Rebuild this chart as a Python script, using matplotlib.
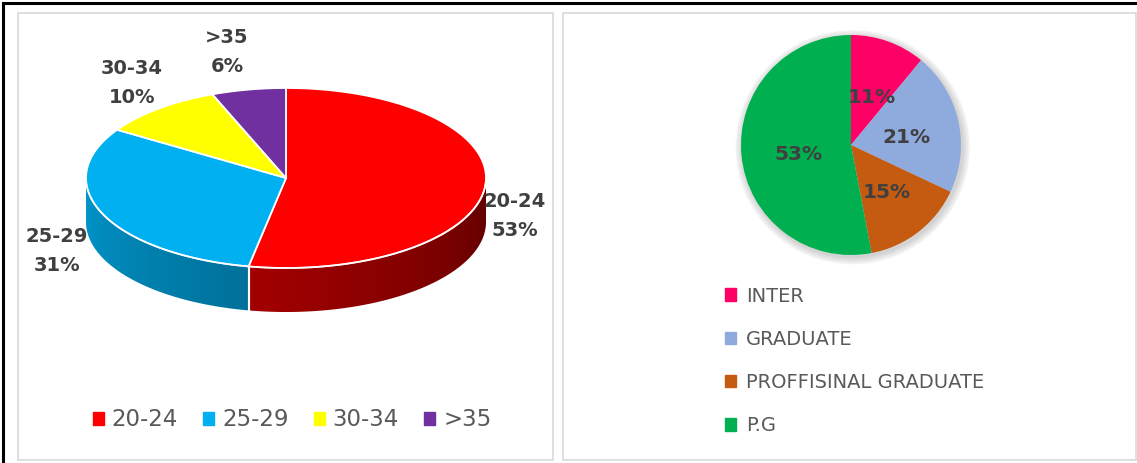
import numpy as np
import matplotlib
matplotlib.use("Agg")
import matplotlib.pyplot as plt
from matplotlib.patches import Polygon, Rectangle, Circle, Patch
from matplotlib.lines import Line2D

plt.rcParams['font.family'] = ['DejaVu Sans']

# age groups (left, 3D pie)
age_labels = ['20-24', '25-29', '30-34', '>35']
age_share = [53, 31, 10, 6]
age_colors = ['#FF0000', '#00B0F0', '#FFFF00', '#7030A0']

# education (right, flat pie)
edu_labels = ['INTER', 'GRADUATE', 'PROFFISINAL GRADUATE', 'P.G']
edu_share = [11, 21, 15, 53]
edu_colors = ['#FF0066', '#8FAADC', '#C55A11', '#00B050']

txt_dark = '#404040'
txt_leg = '#595959'

W, H = 1137, 463
fig = plt.figure(figsize=(W / 100, H / 100), dpi=100)
bg = fig.add_axes([0, 0, 1, 1])
bg.axis('off')

# outer frame (left and top only) and the two chart boxes
fig.add_artist(Line2D([3 / W, 3 / W, 1], [0, 1 - 3 / H, 1 - 3 / H], color='black', lw=2.2,
                      solid_joinstyle='miter', solid_capstyle='butt'))
bg.add_patch(Rectangle((18, 13), 535, 447, fill=False, ec='#D9D9D9', lw=1.2))
bg.add_patch(Rectangle((563, 13), 573, 447, fill=False, ec='#D9D9D9', lw=1.2))

# ---- left: 3D pie drawn by hand ----
cx, cy, rx, ry, depth = 286, 178, 200, 90, 44


def pt(theta, dz=0):
    t = np.radians(theta)
    return cx + rx * np.cos(t), cy - ry * np.sin(t) + dz


def shade(theta):
    # darker towards the right side of the wall
    return 0.85 - 0.47 * (theta + 180) / 180


fracs = np.array(age_share) / sum(age_share)
starts = 90 - 360 * np.concatenate([[0], np.cumsum(fracs)[:-1]])
ends = starts - 360 * fracs

xs = np.linspace(cx - rx, cx + rx, 400)
col_theta = -np.degrees(np.arccos(np.clip((xs - cx) / rx, -1, 1)))

# side wall, only the front half (-180..0) is visible
for s, e, col in zip(starts, ends, age_colors):
    lo, hi = max(e, -180), min(s, 0)
    if lo >= hi:
        continue
    base = np.array(matplotlib.colors.to_rgb(col))
    angs = np.linspace(hi, lo, 200)
    top = [pt(a) for a in angs]
    bot = [pt(a, depth) for a in angs[::-1]]
    wall = Polygon(top + bot, closed=True, fc='none', ec='none')
    bg.add_patch(wall)
    grad = shade(col_theta)[None, :, None] * base[None, None, :]
    im = bg.imshow(grad, extent=(cx - rx, cx + rx, cy + ry + depth, cy - ry),
                   aspect='auto', interpolation='bilinear', zorder=1)
    im.set_clip_path(wall)
    for a in (hi, lo):
        if -180 < a < 0:
            x, y = pt(a)
            bg.plot([x, x], [y, y + depth], color='white', lw=1.5, zorder=2)

# top face
for s, e, col in zip(starts, ends, age_colors):
    angs = np.linspace(s, e, 200)
    verts = [(cx, cy)] + [pt(a) for a in angs]
    bg.add_patch(Polygon(verts, closed=True, fc=col, ec='white', lw=1.3, zorder=3))

# light rim along the front edge
rim = np.linspace(-180, 0, 200)
bg.plot([pt(a)[0] for a in rim], [pt(a)[1] for a in rim], color='white', lw=1.2,
        alpha=0.8, zorder=4)

# data labels (category + percent)
age_label_pos = [(515, 216), (57, 251), (132, 83), (227, 52)]
for (x, y), lab, v in zip(age_label_pos, age_labels, age_share):
    bg.text(x, y, f'{lab}\n{v}%', ha='center', va='center', fontsize=14,
            fontweight='bold', color=txt_dark, linespacing=1.7, zorder=5)

bg.set_xlim(0, W)
bg.set_ylim(H, 0)

leg1 = bg.legend(handles=[Patch(color=c, label=l) for c, l in zip(age_colors, age_labels)],
                 loc='center', bbox_to_anchor=(292 / W, 1 - 420 / H), ncol=4, frameon=False,
                 fontsize=16.5, labelcolor=txt_leg, handlelength=0.48, handleheight=0.48,
                 handletextpad=0.35, columnspacing=1.1)
bg.add_artist(leg1)

# ---- right: flat pie ----
pcx, pcy, pr = 851, 145, 110
ax2 = fig.add_axes([(pcx - pr) / W, 1 - (pcy + pr) / H, 2 * pr / W, 2 * pr / H])

# soft shadow
for k in range(6):
    ax2.add_patch(Circle((0.015, -0.02), 1.0 + 0.012 * k, color='black', alpha=0.028,
                         zorder=0, clip_on=False))

wedges, texts, autotexts = ax2.pie(edu_share, colors=edu_colors, startangle=90,
                                   counterclock=False,
                                   autopct=lambda p: f'{round(p)}%', pctdistance=0.5,
                                   textprops=dict(fontsize=14.5, fontweight='bold', color=txt_dark),
                                   wedgeprops=dict(lw=0))
for w in wedges:
    w.set_zorder(2)
for t in autotexts:
    t.set_zorder(3)
    x, y = t.get_position()
    t.set_position((x + 0.02, y - 0.04))
ax2.set_xlim(-1, 1)
ax2.set_ylim(-1, 1)
ax2.set_aspect('equal')
ax2.axis('off')

bg.legend(handles=[Patch(color=c, label=l) for c, l in zip(edu_colors, edu_labels)],
          loc='upper left', bbox_to_anchor=(707 / W, 1 - 269 / H), ncol=1, frameon=False,
          fontsize=14, labelcolor=txt_leg, handlelength=0.6, handleheight=0.6,
          handletextpad=0.5, labelspacing=1.25)

fig.savefig('out.png', dpi=100)
